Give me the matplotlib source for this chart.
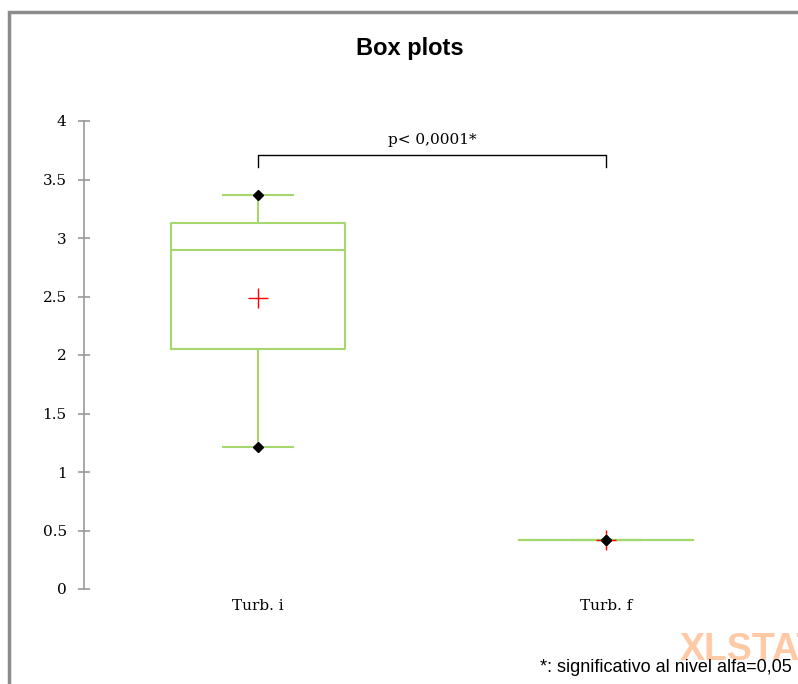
import matplotlib.pyplot as plt
from matplotlib.patches import Rectangle

# summary statistics for each variable
labels = ['Turb. i', 'Turb. f']
mins = [1.21, 0.42]
q1s = [2.05, 0.42]
medians = [2.90, 0.42]
q3s = [3.13, 0.42]
maxs = [3.37, 0.42]
means = [2.49, 0.42]
p_text = 'p< 0,0001*'
yticks = [0, 0.5, 1, 1.5, 2, 2.5, 3, 3.5, 4]

green = '#a5d76e'
grey = '#999999'
serif = 'DejaVu Serif'

fig = plt.figure(figsize=(7.98, 6.84), dpi=100)
ax = fig.add_axes([84 / 798, 1 - 589 / 684, 696 / 798, 468 / 684])

stats = []
for i in range(len(labels)):
    stats.append(dict(label=labels[i], whislo=mins[i], q1=q1s[i], med=medians[i],
                      q3=q3s[i], whishi=maxs[i], mean=means[i]))

pos = [1, 2]
line = dict(color=green, linewidth=1.5)
ax.bxp(stats, positions=pos, widths=0.5, capwidths=0.2, showmeans=False,
       showfliers=False, boxprops=line, whiskerprops=line, capprops=line,
       medianprops=line)

# min / max markers and means
ax.plot(pos, mins, linestyle='none', marker='D', color='black', markersize=5.5, zorder=5)
ax.plot(pos, maxs, linestyle='none', marker='D', color='black', markersize=5.5, zorder=5)
ax.plot(pos, means, linestyle='none', marker='+', color='red', markersize=14,
        markeredgewidth=1, zorder=4)

# significance bracket
ax.plot([1, 1, 2, 2], [3.61, 3.71, 3.71, 3.61], color='black', linewidth=1)
ax.text(1.5, 3.84, p_text, ha='center', va='center', fontsize=11, family=serif)

ax.set_xlim(0.5, 2.5)
ax.set_ylim(0, 4)
ax.set_yticks(yticks)
ax.set_yticklabels([f'{t:g}' for t in yticks], fontsize=11, family=serif)
ax.set_xticks(pos)
ax.set_xticklabels(labels, fontsize=11, family=serif)
ax.tick_params(axis='x', length=0, pad=7)
ax.tick_params(axis='y', direction='inout', length=9, color=grey, width=1.2, pad=8)
for s in ['top', 'right', 'bottom']:
    ax.spines[s].set_visible(False)
ax.spines['left'].set_color(grey)
ax.spines['left'].set_linewidth(1.2)

fig.text(410 / 798, 1 - 48 / 684, 'Box plots', ha='center', va='center',
         fontsize=17, fontweight='bold', family='Liberation Sans')

# watermark and footnote
fig.text(680 / 798, 1 - 650 / 684, 'XLSTAT', ha='left', va='center', fontsize=27,
         fontweight='bold', family='Liberation Sans', color='#ffc9a6', zorder=1)
fig.text(540 / 798, 1 - 667 / 684, '*: significativo al nivel alfa=0,05', ha='left',
         va='center', fontsize=13, family='Liberation Sans', zorder=2)

# chart frame
fig.patches.append(Rectangle((9 / 798, -0.1), 1.2, 1.1 - 12 / 684, transform=fig.transFigure,
                             fill=False, edgecolor='#8c8c8c', linewidth=2.5))

fig.savefig('out.png', dpi=100)
